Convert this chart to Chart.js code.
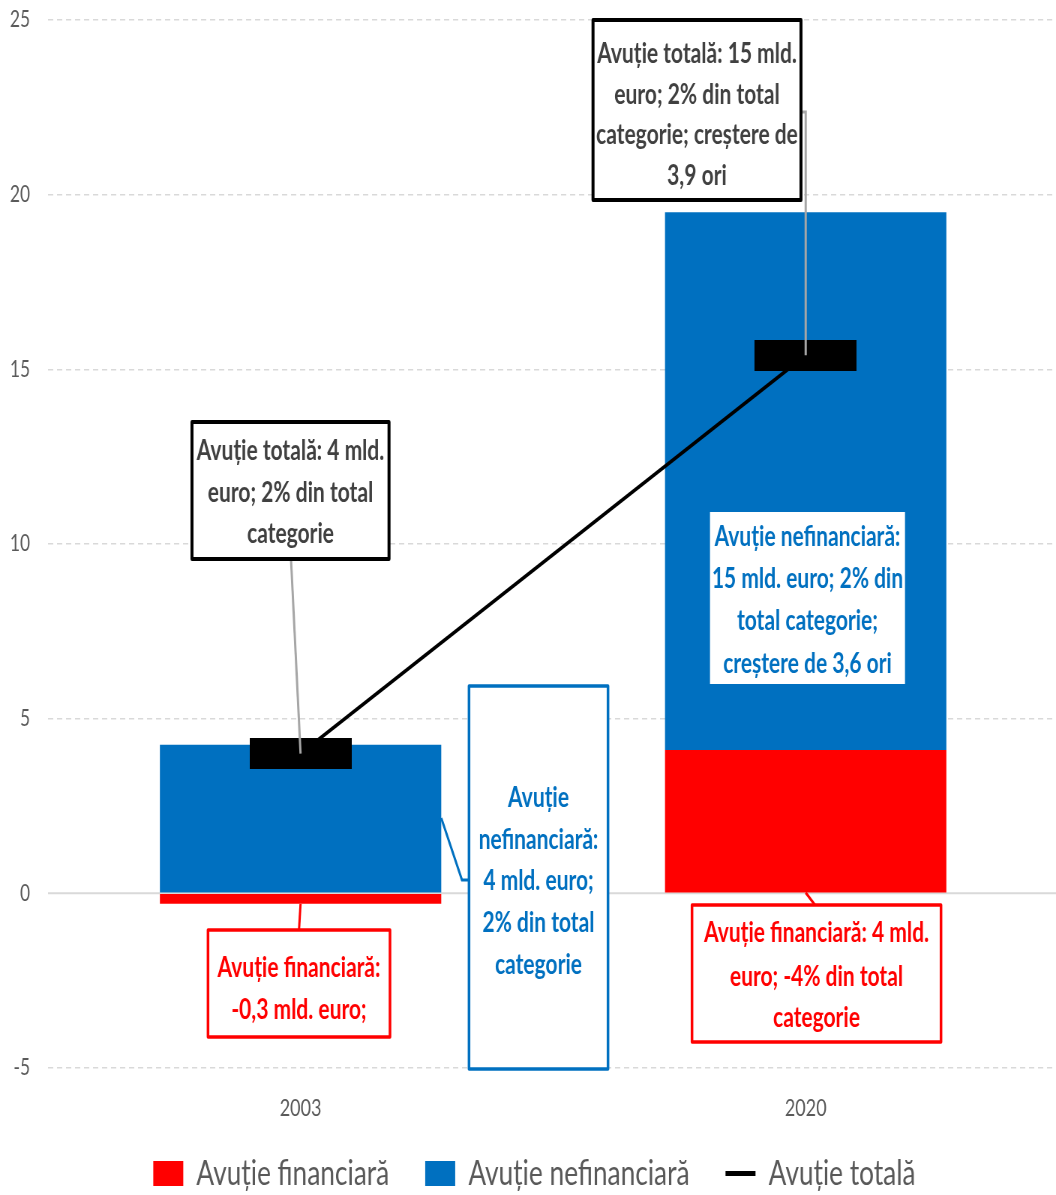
<!DOCTYPE html>
<html>
<head>
<meta charset="utf-8">
<script src="https://cdn.jsdelivr.net/npm/chart.js@4"></script>
<style>
  html, body { margin: 0; padding: 0; background: #fff; overflow: hidden; }
  /* The chart is laid out wide and squeezed horizontally for a condensed look */
  #stage { position: absolute; left: 0; top: 0; transform: scaleX(0.75); transform-origin: 0 0; }
</style>
</head>
<body>
<div id="stage"><canvas id="c" width="1425" height="1195"></canvas></div>
<script>
// ---- data ----
const years = ['2003', '2020'];
const financial = [-0.3, 4.1];        // Avuție financiară, mld. euro
const nonFinancial = [4.25, 15.4];    // Avuție nefinanciară, mld. euro
const total = [4.0, 15.4];            // Avuție totală, mld. euro
const seriesNames = ['Avuție financiară', 'Avuție nefinanciară', 'Avuție totală'];
const yMin = -5, yMax = 25, yStep = 5;

// ---- callout texts ----
const noteTotal2003 = ['Avuție totală: 4 mld.', 'euro; 2% din total', 'categorie'];
const noteTotal2020 = ['Avuție totală: 15 mld.', 'euro; 2% din total', 'categorie; creștere de', '3,9 ori'];
const noteNonFin2003 = ['Avuție', 'nefinanciară:', '4 mld. euro;', '2% din total', 'categorie'];
const noteNonFin2020 = ['Avuție nefinanciară:', '15 mld. euro; 2% din', 'total categorie;', 'creștere de 3,6 ori'];
const noteFin2003 = ['Avuție financiară:', '-0,3 mld. euro;'];
const noteFin2020 = ['Avuție financiară: 4 mld.', 'euro; -4% din total', 'categorie'];

const K = 0.75;                 // horizontal squeeze of the stage
const X = v => v / K;           // screen x -> canvas x
const FONT = 'Lato, "Open Sans", sans-serif';
const RED = '#FF0000', BLUE = '#0070C0', GREY_TXT = '#595959', DARK_TXT = '#404040';

Chart.defaults.font.family = FONT;

// wide black bar used as the marker of the total line
const marker = document.createElement('canvas');
marker.width = Math.round(X(102));
marker.height = 31;
(function () {
  const m = marker.getContext('2d');
  m.fillStyle = '#000';
  m.fillRect(0, 0, marker.width, marker.height);
})();

function box(ctx, x1, y1, x2, y2, stroke, lw) {
  ctx.save();
  ctx.fillStyle = '#fff';
  ctx.fillRect(X(x1), y1, X(x2) - X(x1), y2 - y1);
  if (stroke) {
    ctx.strokeStyle = stroke;
    ctx.lineWidth = lw;
    ctx.lineJoin = 'round';
    ctx.strokeRect(X(x1), y1, X(x2) - X(x1), y2 - y1);
  }
  ctx.restore();
}

function lines(ctx, cx, baselines, texts, color, size) {
  ctx.save();
  ctx.fillStyle = color;
  ctx.font = `bold ${size}px ${FONT}`;
  ctx.textAlign = 'center';
  ctx.textBaseline = 'alphabetic';
  texts.forEach((t, i) => ctx.fillText(t, X(cx), baselines[i]));
  ctx.restore();
}

function path(ctx, pts, color, lw) {
  ctx.save();
  ctx.strokeStyle = color;
  ctx.lineWidth = lw;
  ctx.lineJoin = 'miter';
  ctx.beginPath();
  pts.forEach((p, i) => i ? ctx.lineTo(p[0], p[1]) : ctx.moveTo(p[0], p[1]));
  ctx.stroke();
  ctx.restore();
}

// solid zero line under the bars
const zeroLine = {
  id: 'zeroLine',
  beforeDatasetsDraw(chart) {
    const { ctx, chartArea, scales } = chart;
    const y = scales.y.getPixelForValue(0);
    path(ctx, [[chartArea.left, y], [chartArea.right, y]], '#D9D9D9', 2);
  }
};

// callout boxes with leader lines
const callouts = {
  id: 'callouts',
  afterDatasetsDraw(chart) {
    const ctx = chart.ctx;
    const fin = chart.getDatasetMeta(0).data;
    const non = chart.getDatasetMeta(1).data;
    const tot = chart.getDatasetMeta(2).data;
    const S = 28;

    // leaders
    path(ctx, [[X(291), 559], [tot[0].x, tot[0].y]], '#A6A6A6', 3);
    path(ctx, [[X(801), 112], [tot[1].x, 112], [tot[1].x, tot[1].y]], '#A6A6A6', 3);
    const rEdge = non[0].x + non[0].width / 2;
    path(ctx, [[rEdge, 818], [X(462), 880], [X(469), 880]], BLUE, 3);
    path(ctx, [[fin[0].x, fin[0].y], [X(299), 930]], RED, 3);
    path(ctx, [[fin[1].x, fin[1].base], [X(815), 905]], RED, 3);

    // boxes and texts
    box(ctx, 192, 422, 389, 559, '#000', 4);
    lines(ctx, 290.5, [460, 502, 543], noteTotal2003, DARK_TXT, S);

    box(ctx, 593, 20, 801, 200, '#000', 4);
    lines(ctx, 697, [63, 104, 144, 185], noteTotal2020, DARK_TXT, S);

    box(ctx, 469, 686, 608, 1069, BLUE, 3.5);
    lines(ctx, 538.5, [807, 849, 890, 932, 974], noteNonFin2003, BLUE, S);

    box(ctx, 710, 512, 905, 684, null, 0);
    lines(ctx, 807.5, [546, 588, 630, 673], noteNonFin2020, BLUE, S);

    box(ctx, 208, 930, 390, 1037, RED, 3.5);
    lines(ctx, 299, [977, 1019], noteFin2003, RED, S);

    box(ctx, 692, 905, 941, 1042, RED, 3.5);
    lines(ctx, 816.5, [942, 986, 1027], noteFin2020, RED, S);
  }
};

new Chart(document.getElementById('c'), {
  data: {
    labels: years,
    datasets: [
      { type: 'bar', label: seriesNames[0], data: financial, backgroundColor: RED, stack: 'wealth', order: 1,
        barPercentage: 0.557, categoryPercentage: 1 },
      { type: 'bar', label: seriesNames[1], data: nonFinancial, backgroundColor: BLUE, stack: 'wealth', order: 1,
        barPercentage: 0.557, categoryPercentage: 1 },
      { type: 'line', label: seriesNames[2], data: total, borderColor: '#000', backgroundColor: '#000',
        borderWidth: 4, stack: 'total', order: 0, pointStyle: marker, pointRadius: 10, pointHoverRadius: 10, tension: 0 }
    ]
  },
  options: {
    responsive: false,
    animation: false,
    events: [],
    layout: { padding: { top: 20, right: 0, left: 0, bottom: -6 } },
    scales: {
      x: {
        stacked: true,
        grid: { display: false },
        border: { display: false },
        // labels placed below the axis box without being clipped by it
        ticks: { color: GREY_TXT, font: { size: 24 }, mirror: true, padding: -55 },
        afterFit(s) { s.height = 40; }
      },
      y: {
        stacked: true,
        min: yMin, max: yMax,
        ticks: { stepSize: yStep, color: GREY_TXT, font: { size: 23 }, padding: X(18) },
        grid: {
          drawTicks: false,
          lineWidth: 1.5,
          color: c => (c.tick && c.tick.value === 0) ? 'rgba(0,0,0,0)' : '#D9D9D9'
        },
        border: { display: false, dash: [7, 5] },
        afterFit(s) { s.width = X(48); s.paddingTop = 0; s.paddingBottom = 0; }
      }
    },
    plugins: {
      tooltip: { enabled: false },
      legend: {
        position: 'bottom',
        labels: {
          usePointStyle: true,
          pointStyleWidth: X(30),
          boxHeight: 25,
          color: GREY_TXT,
          font: { size: 35 },
          padding: X(36),
          generateLabels(chart) {
            const items = Chart.defaults.plugins.legend.labels.generateLabels(chart);
            items.sort((a, b) => a.datasetIndex - b.datasetIndex);
            items.forEach(it => {
              if (it.datasetIndex === 2) {
                it.pointStyle = 'line'; it.strokeStyle = '#000'; it.lineWidth = 5;
              } else {
                it.pointStyle = 'rect'; it.lineWidth = 0;
              }
            });
            return items;
          }
        }
      }
    }
  },
  plugins: [zeroLine, callouts]
});
</script>
</body>
</html>
